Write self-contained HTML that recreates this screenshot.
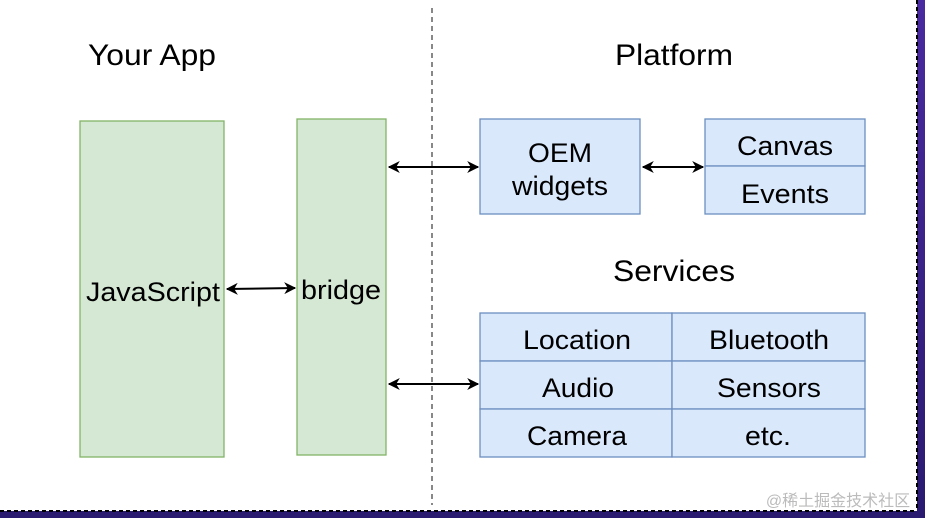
<!DOCTYPE html><html><head><style>
body{margin:0;width:925px;height:518px;overflow:hidden;background:#2a1a6e;font-family:"Liberation Sans",sans-serif}
</style></head><body>
<svg width="925" height="518" xmlns="http://www.w3.org/2000/svg" style="position:absolute;left:0;top:0">
<defs><linearGradient id="g" x1="0" y1="0" x2="0" y2="1"><stop offset="0" stop-color="#4a2aa0"/><stop offset="1" stop-color="#2a1a70"/></linearGradient>
<marker id="a" viewBox="0 0 10 10" refX="9" refY="5" markerWidth="6" markerHeight="6" orient="auto-start-reverse"><path d="M0,0 L10,5 L0,10 L3,5z" fill="#000"/></marker></defs>
<rect width="925" height="518" fill="url(#g)"/>
<rect x="0" y="0" width="917" height="511" fill="#fff"/>
<line x1="0" y1="511" x2="917" y2="511" stroke="#000" stroke-width="2" stroke-dasharray="4 3"/>
<line x1="917" y1="0" x2="917" y2="511" stroke="#000" stroke-width="2" stroke-dasharray="4 3"/>
<line x1="432" y1="8" x2="432" y2="505" stroke="#111" stroke-width="1" stroke-dasharray="5 4"/>
<g font-size="30" text-anchor="middle" fill="#000">
<text x="152" y="65" textLength="128" lengthAdjust="spacingAndGlyphs">Your App</text>
<text x="674" y="65" textLength="118" lengthAdjust="spacingAndGlyphs">Platform</text>
<text x="674" y="281" textLength="122" lengthAdjust="spacingAndGlyphs">Services</text></g>
<g stroke="#82b366" stroke-width="1.3" fill="#d5e8d4">
<rect x="80" y="121" width="144" height="336"/><rect x="297" y="119" width="89" height="336"/></g>
<g stroke="#6c8ebf" stroke-width="1.3" fill="#dae8fc">
<rect x="480" y="119" width="160" height="95"/><rect x="705" y="119" width="160" height="47"/><rect x="705" y="166" width="160" height="48"/>
<rect x="480" y="313" width="192" height="48"/><rect x="672" y="313" width="193" height="48"/>
<rect x="480" y="361" width="192" height="48"/><rect x="672" y="361" width="193" height="48"/>
<rect x="480" y="409" width="192" height="48"/><rect x="672" y="409" width="193" height="48"/></g>
<g stroke="#000" stroke-width="2" marker-start="url(#a)" marker-end="url(#a)">
<line x1="227" y1="289" x2="295" y2="288"/><line x1="389" y1="167" x2="478" y2="167"/>
<line x1="643" y1="167" x2="703" y2="167"/><line x1="389" y1="384" x2="478" y2="384"/></g>
<g font-size="27" text-anchor="middle" fill="#000" lengthAdjust="spacingAndGlyphs">
<text x="153" y="301" textLength="134" lengthAdjust="spacingAndGlyphs">JavaScript</text>
<text x="341" y="299" textLength="80" lengthAdjust="spacingAndGlyphs">bridge</text>
<text x="560" y="162" textLength="64" lengthAdjust="spacingAndGlyphs">OEM</text>
<text x="560" y="195" textLength="96" lengthAdjust="spacingAndGlyphs">widgets</text>
<text x="785" y="155" textLength="96" lengthAdjust="spacingAndGlyphs">Canvas</text>
<text x="785" y="203" textLength="88" lengthAdjust="spacingAndGlyphs">Events</text>
<text x="577" y="349" textLength="108" lengthAdjust="spacingAndGlyphs">Location</text>
<text x="769" y="349" textLength="120" lengthAdjust="spacingAndGlyphs">Bluetooth</text>
<text x="578" y="397" textLength="72" lengthAdjust="spacingAndGlyphs">Audio</text>
<text x="769" y="397" textLength="104" lengthAdjust="spacingAndGlyphs">Sensors</text>
<text x="577" y="445" textLength="100" lengthAdjust="spacingAndGlyphs">Camera</text>
<text x="768" y="445" textLength="46" lengthAdjust="spacingAndGlyphs">etc.</text></g>
<text x="838" y="506" font-size="16" fill="#bbb" text-anchor="middle" font-family="Liberation Sans,Noto Sans CJK SC,sans-serif">@稀土掘金技术社区</text>
</svg></body></html>
